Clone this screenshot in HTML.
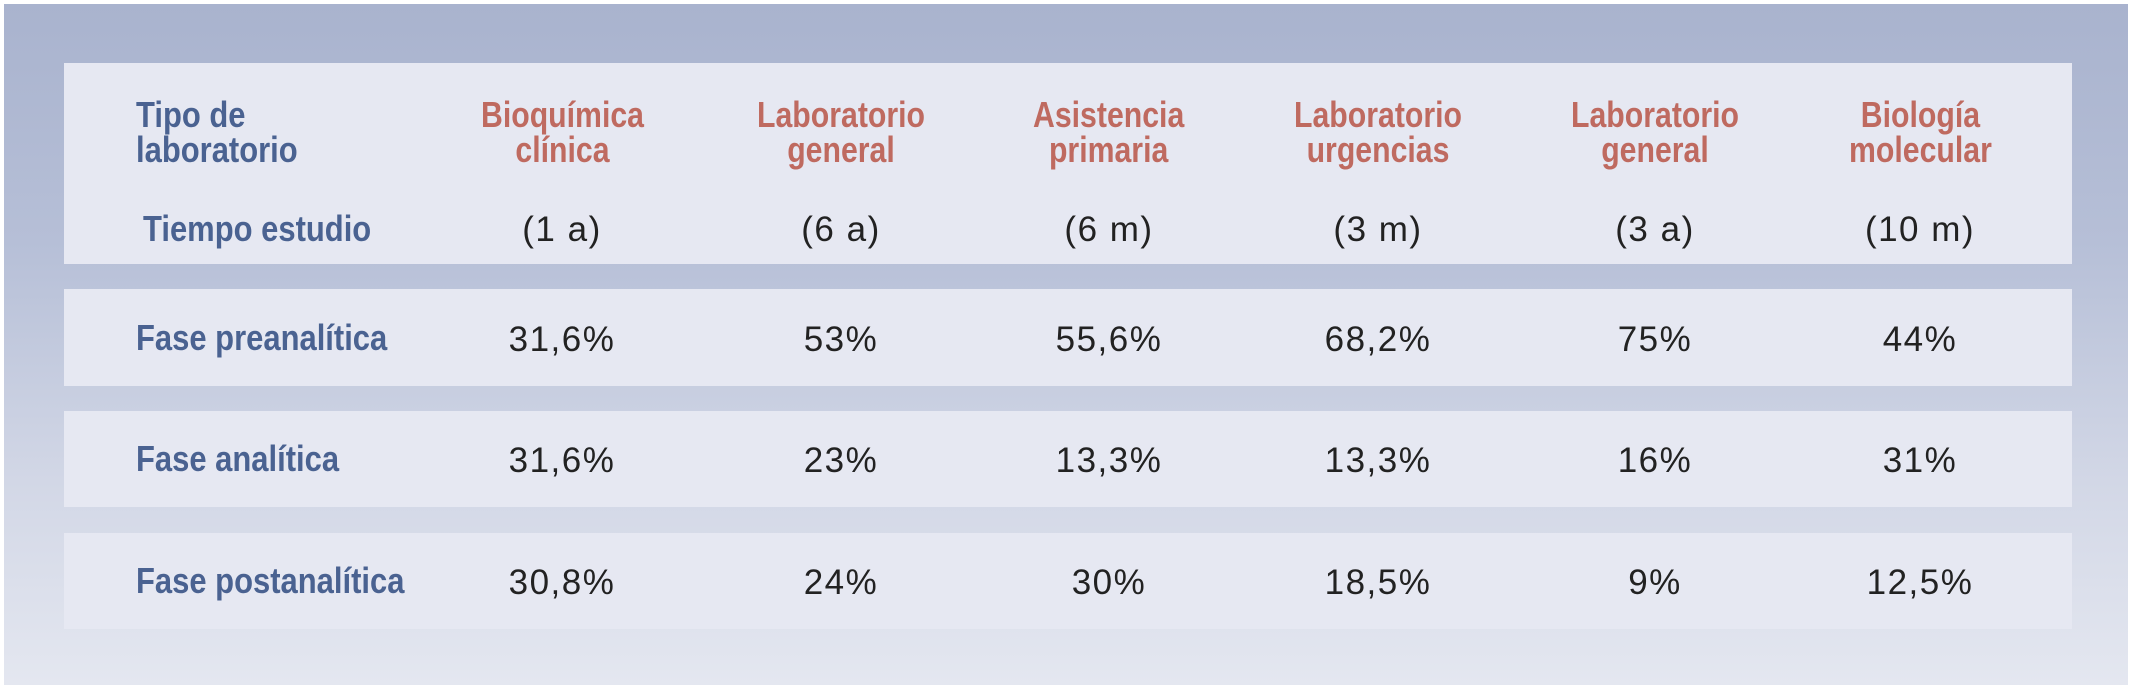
<!DOCTYPE html>
<html><head><meta charset="utf-8"><style>
html,body{margin:0;padding:0;background:#fff;}
#frame{position:relative;width:2133px;height:687px;overflow:hidden;background:#fff;}
#bg{position:absolute;left:4px;top:4px;width:2124px;height:681px;background:linear-gradient(#a9b3ce 0%,#b6bfd7 35%,#d2d7e6 70%,#e4e7f0 100%);}
.panel{position:absolute;left:64px;width:2008px;background:#e6e8f2;}
.t{position:absolute;white-space:nowrap;line-height:1;}
.lab{font-family:"Liberation Sans",sans-serif;font-weight:bold;color:#4a6291;font-size:36px;transform:scaleX(0.86);transform-origin:left top;}
.hd{font-family:"Liberation Sans",sans-serif;font-weight:bold;color:#bf6a60;font-size:36px;text-align:center;transform:translateX(-50%) scaleX(0.84);transform-origin:0 0;line-height:35px;}
.hd{transform-origin:left top;}
.num{font-family:"Liberation Sans",sans-serif;color:#222;font-size:35px;letter-spacing:1.5px;transform:translateX(-50%);}
</style></head><body>
<div id="frame">
<div id="bg"></div>
<div class="panel" style="top:63px;height:201px"></div>
<div class="panel" style="top:289px;height:97px"></div>
<div class="panel" style="top:411px;height:96px"></div>
<div class="panel" style="top:533px;height:96px"></div>
<div class="t lab" style="left:136px;top:97px;line-height:35px">Tipo de<br>laboratorio</div>
<div class="t lab" style="left:143px;top:211px">Tiempo estudio</div>
<div class="t lab" style="left:136px;top:320px">Fase preanalítica</div>
<div class="t lab" style="left:136px;top:441px">Fase analítica</div>
<div class="t lab" style="left:136px;top:563px">Fase postanalítica</div>
</div>
<script>
const labs=["Bioquímica<br>clínica","Laboratorio<br>general","Asistencia<br>primaria","Laboratorio<br>urgencias","Laboratorio<br>general","Biología<br>molecular"];
const durations=["(1 a)","(6 a)","(6 m)","(3 m)","(3 a)","(10 m)"];
const preanalitica=["31,6%","53%","55,6%","68,2%","75%","44%"];
const analitica=["31,6%","23%","13,3%","13,3%","16%","31%"];
const postanalitica=["30,8%","24%","30%","18,5%","9%","12,5%"];
const colX=[562,841,1109,1378,1655,1920];
const frame=document.getElementById('frame');
function add(cls,html,x,y,name){
  const d=document.createElement('div');
  d.className='t '+cls;
  d.innerHTML=html;
  d.style.left=x+'px';d.style.top=y+'px';
  
  
  frame.appendChild(d);
  return d;
}
labs.forEach((l,i)=>{
  const d=add('hd',l,colX[i],97,'lab-header-'+(i+1));
  const w=d.offsetWidth;
  d.style.transform='scaleX(0.84)';
  d.style.left=(colX[i]-w*0.42)+'px';
});
durations.forEach((l,i)=>add('num',l,colX[i],212,'duration-'+(i+1)));
preanalitica.forEach((l,i)=>add('num',l,colX[i],322,'preanalitica-value-'+(i+1)));
analitica.forEach((l,i)=>add('num',l,colX[i],443,'analitica-value-'+(i+1)));
postanalitica.forEach((l,i)=>add('num',l,colX[i],565,'postanalitica-value-'+(i+1)));
</script>
</body></html>
